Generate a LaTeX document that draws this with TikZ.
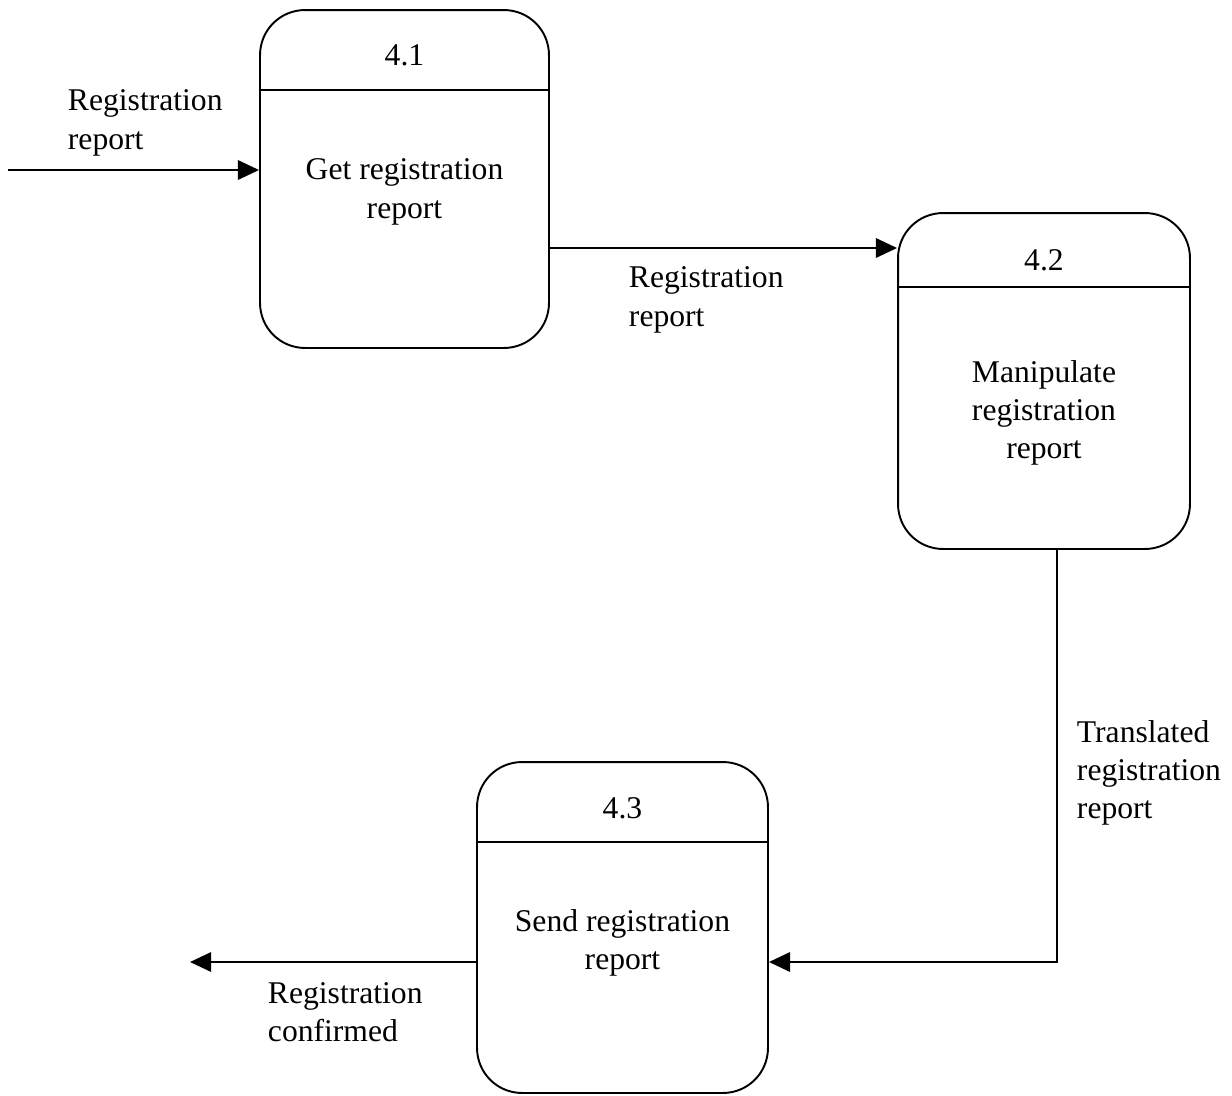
\documentclass[tikz,border=0pt]{standalone}
\usepackage{fontspec}
\setmainfont{Liberation Serif}
\usetikzlibrary{positioning,arrows.meta}

\begin{document}
\begin{tikzpicture}[x=0.02cm,y=-0.02cm,line width=1.1pt,
  proc/.style={draw,rounded corners=0.9cm,inner sep=0pt},
  txt/.style={align=center,font=\fontsize{18}{21.8}\selectfont},
  lbl/.style={align=left,anchor=west,inner sep=0pt,font=\fontsize{18}{21.8}\selectfont},
  flow/.style={line width=1.3pt,-{Triangle[length=12pt,width=11pt]}}]
  \useasboundingbox (0,0) rectangle (1232,1096);

  % processes
  \node[proc,minimum width=5.78cm,minimum height=6.76cm] (b41) at (404.5,179) {};
  \node[proc,minimum width=5.84cm,minimum height=6.72cm] (b42) at (1044,381) {};
  \node[proc,minimum width=5.82cm,minimum height=6.62cm] (b43) at (622.5,927.5) {};

  \draw (b41.west |- 0,90) -- (b41.east |- 0,90);
  \draw (b42.west |- 0,287) -- (b42.east |- 0,287);
  \draw (b43.west |- 0,842) -- (b43.east |- 0,842);

  \node[txt] (n41) at (404.5,55) {4.1};
  \node[txt] (t41) at (404.5,192) {Get registration\\report};
  \node[txt] (n42) at (1044,260) {4.2};
  \node[txt] (t42) at (1044,413) {Manipulate\\registration\\report};
  \node[txt] (n43) at (622.5,808) {4.3};
  \node[txt] (t43) at (622.5,943) {Send registration\\report};

  % flows
  \coordinate (src) at (8,170);
  \coordinate (bend) at (1057,962);
  \coordinate (sink) at (190,962);
  \draw[flow] (src) -- (src -| b41.west);
  \draw[flow] (b41.east |- 0,248) -- (b42.west |- 0,248);
  \draw[flow] (b42.south -| bend) -- (bend) -- (bend -| b43.east);
  \draw[flow] (b43.west |- sink) -- (sink);

  \node[lbl] (l1) at (67,123) {Registration\\report};
  \node[lbl] (l2) at (628,300) {Registration\\report};
  \node[lbl] (l3) at (1076,773) {Translated\\registration\\report};
  \node[lbl] (l4) at (267,1012) {Registration\\confirmed};
\end{tikzpicture}
\end{document}
